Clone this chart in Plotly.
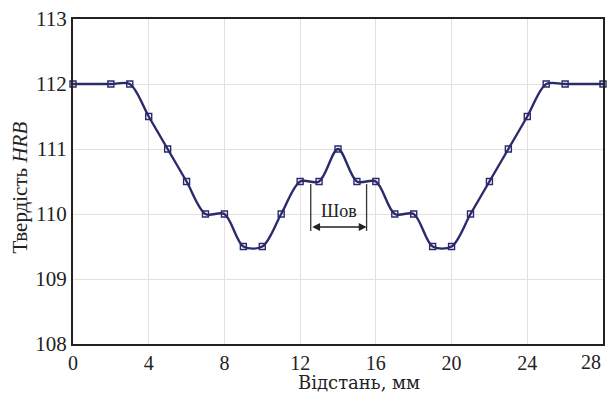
import plotly.graph_objects as go

# Data
distance_mm = [0, 2, 3, 4, 5, 6, 7, 8, 9, 10, 11, 12, 13, 14, 15, 16, 17, 18, 19, 20, 21, 22, 23, 24, 25, 26, 28]
hardness_hrb = [112, 112, 112, 111.5, 111, 110.5, 110, 110, 109.5, 109.5, 110, 110.5, 110.5, 111, 110.5, 110.5, 110, 110, 109.5, 109.5, 110, 110.5, 111, 111.5, 112, 112, 112]
x_ticks = [0, 4, 8, 12, 16, 20, 24, 28]
y_ticks = [108, 109, 110, 111, 112, 113]
weld_start, weld_end = 12.56, 15.51
weld_label = "Шов"
x_title = "Відстань, мм"
y_title = "Твердість <i>HRB</i>"

line_color = "#2b2a6b"
grid_color = "#e9dedb"
font_family = "Liberation Serif"

fig = go.Figure()
fig.add_trace(go.Scatter(
    x=distance_mm, y=hardness_hrb, mode="lines+markers",
    line=dict(color=line_color, width=2.4, shape="spline", smoothing=0.9),
    marker=dict(symbol="square-open", size=6, color=line_color, line=dict(width=1.4, color=line_color)),
    showlegend=False, cliponaxis=False, hoverinfo="skip",
))

# Weld bracket
for xv in (weld_start, weld_end):
    fig.add_shape(type="line", x0=xv, x1=xv, y0=109.74, y1=110.46, xref="x", yref="y",
                  line=dict(color="#333333", width=1.3))
fig.add_annotation(x=weld_end, y=109.8, ax=weld_start, ay=109.8, xref="x", yref="y",
                   axref="x", ayref="y", text="", showarrow=True, arrowhead=2,
                   arrowside="end+start", arrowsize=1.2, arrowwidth=1.3, arrowcolor="#222222")
fig.add_annotation(x=(weld_start + weld_end) / 2, y=110.04, xref="x", yref="y", text=weld_label,
                   showarrow=False, font=dict(family=font_family, size=18, color="#222222"))

# Axis titles
fig.add_annotation(x=0.54, y=-0.157, xref="paper", yref="paper", text=x_title, showarrow=False,
                   xanchor="center", yanchor="bottom",
                   font=dict(family="DejaVu Serif", size=18))
fig.add_annotation(x=-0.1, y=0.4815, xref="paper", yref="paper", text=y_title, showarrow=False,
                   textangle=-90, xanchor="center", yanchor="middle", font=dict(size=21))

# Last x tick label drawn right-aligned to the frame
fig.add_annotation(x=1.0, y=-0.056, xref="paper", yref="paper", text=str(x_ticks[-1]),
                   showarrow=False, xanchor="right", yanchor="middle", font=dict(size=20))

fig.update_layout(
    width=613, height=395,
    margin=dict(l=73, r=10, t=19, b=51, autoexpand=False),
    paper_bgcolor="white", plot_bgcolor="white",
    font=dict(family=font_family, size=21, color="#222222"),
)
fig.update_xaxes(range=[0, 28], tickvals=x_ticks,
                 ticktext=[str(v) for v in x_ticks[:-1]] + [""],
                 showgrid=True, gridcolor=grid_color, gridwidth=1,
                 showline=True, linecolor="#222222", linewidth=2, mirror=True, ticks="",
                 zeroline=False, tickfont=dict(size=20), automargin=False)
fig.update_yaxes(range=[108, 113], tickvals=y_ticks, showgrid=True, gridcolor=grid_color, gridwidth=1,
                 showline=True, linecolor="#222222", linewidth=2, mirror=True, ticks="",
                 zeroline=False, tickfont=dict(size=21), automargin=False)

fig.write_html("out.html", config={"displayModeBar": False},
               post_script="document.body.style.margin='0';document.body.style.padding='0';")
